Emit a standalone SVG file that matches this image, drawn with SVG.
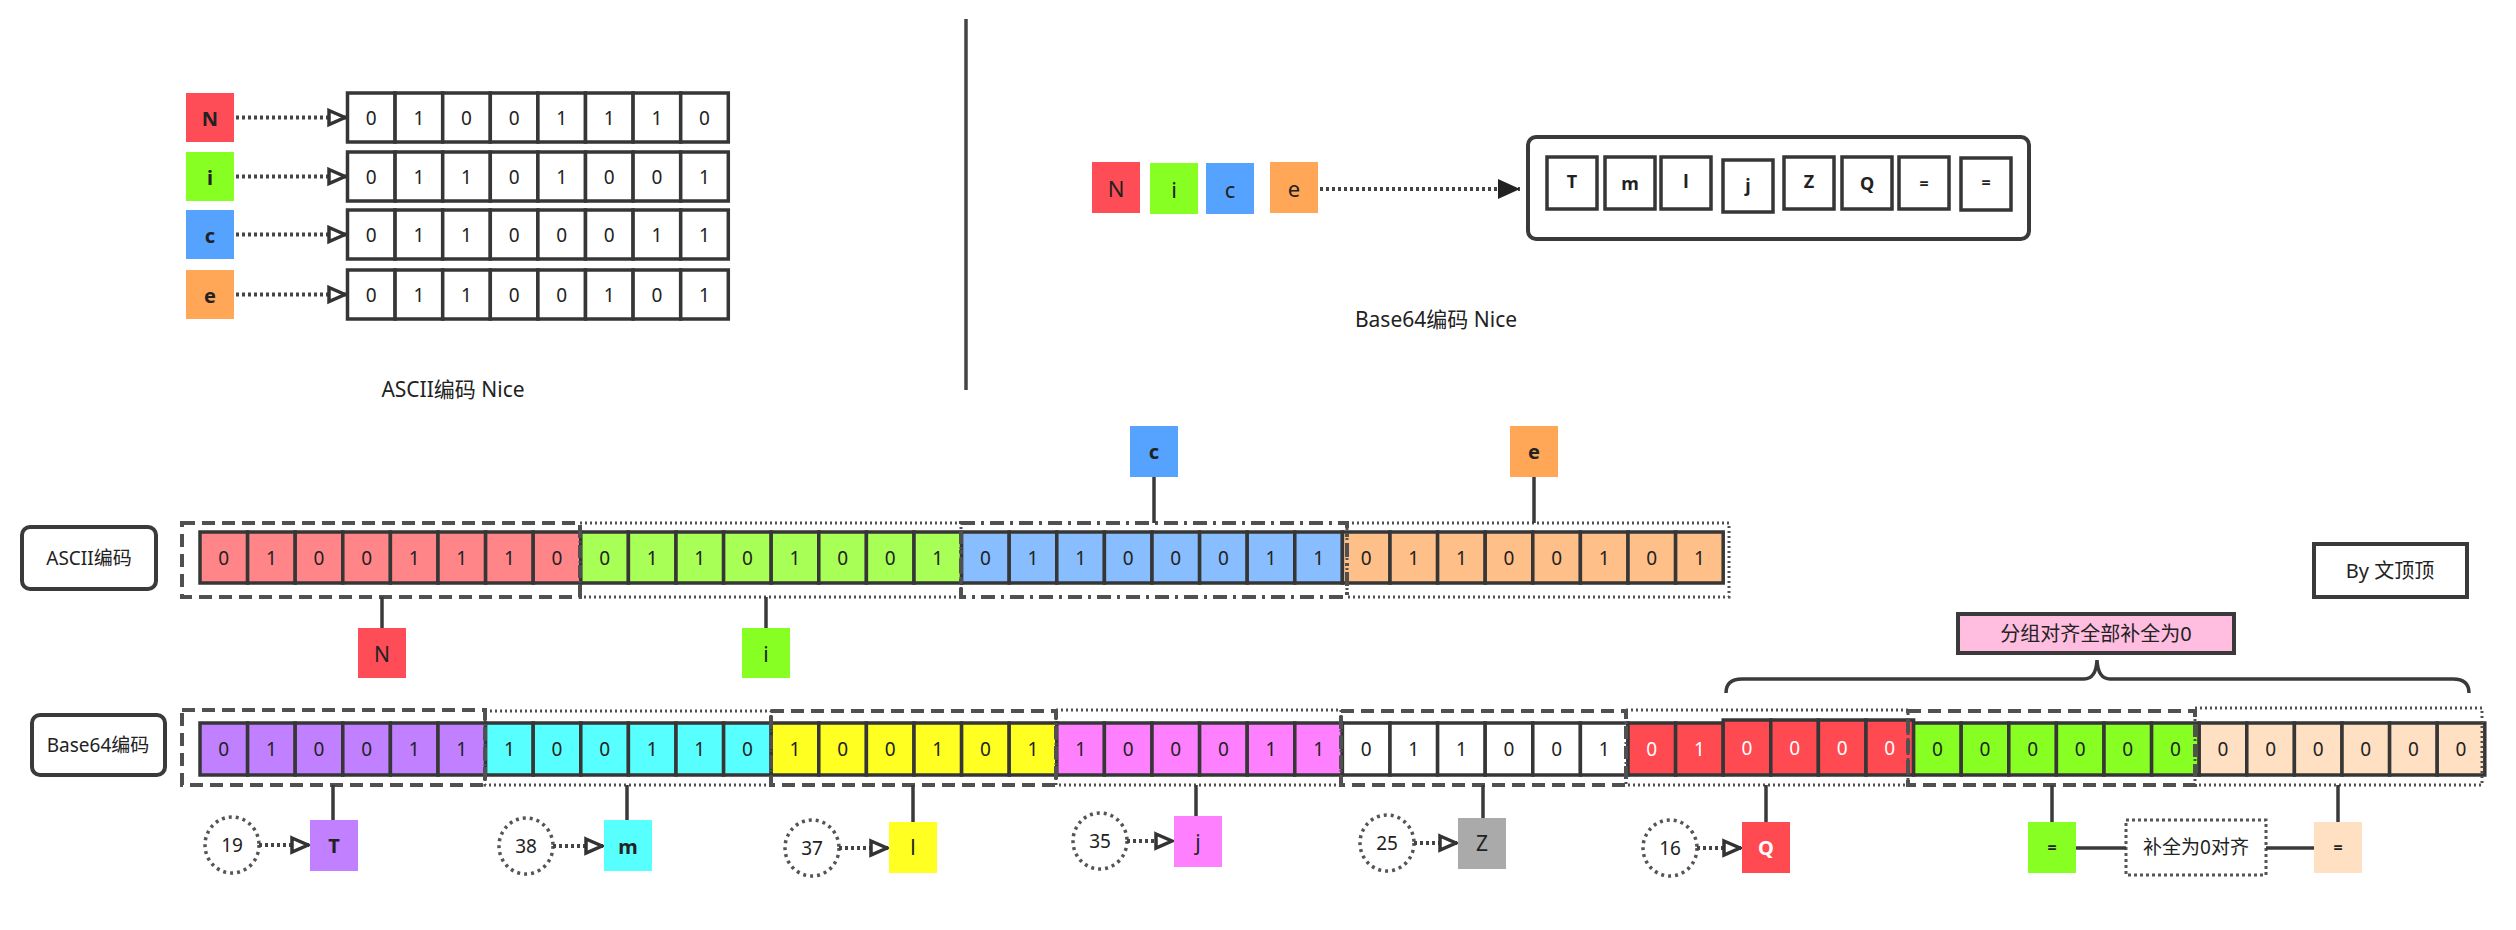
<svg xmlns="http://www.w3.org/2000/svg" width="2516" height="930" viewBox="0 0 2516 930">
<defs>
<style>
text{font-family:"Noto Sans","Noto Sans CJK SC",sans-serif;fill:#222;text-anchor:middle;dominant-baseline:central}
.cell{stroke:#363636;stroke-width:3.5}
.w{fill:#fff}
.b{font-size:19px}
.lt{font-size:20px;font-weight:bold}
.lbl{fill:#fff;stroke:#3a3a3a;stroke-width:4}
.dash{fill:none;stroke:#505050;stroke-width:4;stroke-dasharray:13 7}
.dot{fill:none;stroke:#505050;stroke-width:3;stroke-dasharray:2 3}
.dd{fill:none;stroke:#505050;stroke-width:4;stroke-dasharray:14 6 3 6}
.ln{stroke:#3a3a3a;stroke-width:3.5;fill:none}
.dl{stroke:#444;stroke-width:4;stroke-dasharray:3 3;fill:none}
.circ{fill:#fff;stroke:#555;stroke-width:3.5;stroke-dasharray:3 4}
.red{fill:#ff4d57}.grn{fill:#88ff22}.blu{fill:#55a2ff}.org{fill:#ffa657}
.pr{fill:#ff8589}.pg{fill:#a8ff55}.pb{fill:#88bdff}.po{fill:#ffbf88}
.pu{fill:#c080ff}.cy{fill:#58ffff}.ye{fill:#ffff22}.mg{fill:#ff80ff}.rd{fill:#ff4a52}.gr{fill:#88ff22}.pe{fill:#ffe0c2}
.wt{fill:#fff}
</style>
<marker id="ot" viewBox="0 0 20 20" refX="19" refY="10" markerWidth="20" markerHeight="20" markerUnits="userSpaceOnUse" orient="auto">
<path d="M2,3 L18,10 L2,17 Z" fill="#fff" stroke="#333" stroke-width="3.5"/>
</marker>
<marker id="solid" viewBox="0 0 24 24" refX="23" refY="12" markerWidth="24" markerHeight="24" markerUnits="userSpaceOnUse" orient="auto">
<path d="M1,2 L23,12 L1,22 Z" fill="#222"/>
</marker>
</defs>
<rect width="2516" height="930" fill="#fff"/>

<!-- top-left ASCII -->
<g id="tl-N"><rect x="186" y="93" width="48" height="49" class="red"/><text x="210" y="118" class="lt">N</text></g>
<g id="tl-i"><rect x="186" y="152" width="48" height="49" class="grn"/><text x="210" y="177" class="lt">i</text></g>
<g id="tl-c"><rect x="186" y="210" width="48" height="49" class="blu"/><text x="210" y="235" class="lt">c</text></g>
<g id="tl-e"><rect x="186" y="270" width="48" height="49" class="org"/><text x="210" y="295" class="lt">e</text></g>

<g id="tl-row-N" class="b">
<rect class="cell w" x="347.5" y="93" width="47.6" height="49"/><text x="371.3" y="118">0</text>
<rect class="cell w" x="395.1" y="93" width="47.6" height="49"/><text x="418.9" y="118">1</text>
<rect class="cell w" x="442.7" y="93" width="47.6" height="49"/><text x="466.5" y="118">0</text>
<rect class="cell w" x="490.3" y="93" width="47.6" height="49"/><text x="514.1" y="118">0</text>
<rect class="cell w" x="537.9" y="93" width="47.6" height="49"/><text x="561.7" y="118">1</text>
<rect class="cell w" x="585.5" y="93" width="47.6" height="49"/><text x="609.3" y="118">1</text>
<rect class="cell w" x="633.1" y="93" width="47.6" height="49"/><text x="656.9" y="118">1</text>
<rect class="cell w" x="680.7" y="93" width="47.6" height="49"/><text x="704.5" y="118">0</text>
</g>
<g id="tl-row-i" class="b">
<rect class="cell w" x="347.5" y="152" width="47.6" height="49"/><text x="371.3" y="177">0</text>
<rect class="cell w" x="395.1" y="152" width="47.6" height="49"/><text x="418.9" y="177">1</text>
<rect class="cell w" x="442.7" y="152" width="47.6" height="49"/><text x="466.5" y="177">1</text>
<rect class="cell w" x="490.3" y="152" width="47.6" height="49"/><text x="514.1" y="177">0</text>
<rect class="cell w" x="537.9" y="152" width="47.6" height="49"/><text x="561.7" y="177">1</text>
<rect class="cell w" x="585.5" y="152" width="47.6" height="49"/><text x="609.3" y="177">0</text>
<rect class="cell w" x="633.1" y="152" width="47.6" height="49"/><text x="656.9" y="177">0</text>
<rect class="cell w" x="680.7" y="152" width="47.6" height="49"/><text x="704.5" y="177">1</text>
</g>
<g id="tl-row-c" class="b">
<rect class="cell w" x="347.5" y="210" width="47.6" height="49"/><text x="371.3" y="235">0</text>
<rect class="cell w" x="395.1" y="210" width="47.6" height="49"/><text x="418.9" y="235">1</text>
<rect class="cell w" x="442.7" y="210" width="47.6" height="49"/><text x="466.5" y="235">1</text>
<rect class="cell w" x="490.3" y="210" width="47.6" height="49"/><text x="514.1" y="235">0</text>
<rect class="cell w" x="537.9" y="210" width="47.6" height="49"/><text x="561.7" y="235">0</text>
<rect class="cell w" x="585.5" y="210" width="47.6" height="49"/><text x="609.3" y="235">0</text>
<rect class="cell w" x="633.1" y="210" width="47.6" height="49"/><text x="656.9" y="235">1</text>
<rect class="cell w" x="680.7" y="210" width="47.6" height="49"/><text x="704.5" y="235">1</text>
</g>
<g id="tl-row-e" class="b">
<rect class="cell w" x="347.5" y="270" width="47.6" height="49"/><text x="371.3" y="295">0</text>
<rect class="cell w" x="395.1" y="270" width="47.6" height="49"/><text x="418.9" y="295">1</text>
<rect class="cell w" x="442.7" y="270" width="47.6" height="49"/><text x="466.5" y="295">1</text>
<rect class="cell w" x="490.3" y="270" width="47.6" height="49"/><text x="514.1" y="295">0</text>
<rect class="cell w" x="537.9" y="270" width="47.6" height="49"/><text x="561.7" y="295">0</text>
<rect class="cell w" x="585.5" y="270" width="47.6" height="49"/><text x="609.3" y="295">1</text>
<rect class="cell w" x="633.1" y="270" width="47.6" height="49"/><text x="656.9" y="295">0</text>
<rect class="cell w" x="680.7" y="270" width="47.6" height="49"/><text x="704.5" y="295">1</text>
</g>
<text id="tl-caption" x="453" y="389" style="font-size:21px">ASCII编码 Nice</text>

<g id="divider"><line x1="966" y1="19" x2="966" y2="390" stroke="#444" stroke-width="3.5"/></g>

<!-- top-right Base64 -->
<g id="tr-N"><rect x="1092" y="162" width="48" height="51" class="red"/><text x="1116" y="188" style="font-size:22px">N</text></g>
<g id="tr-i"><rect x="1150" y="163" width="48" height="51" class="grn"/><text x="1174" y="189" style="font-size:22px">i</text></g>
<g id="tr-c"><rect x="1206" y="163" width="48" height="51" class="blu"/><text x="1230" y="189" style="font-size:22px">c</text></g>
<g id="tr-e"><rect x="1270" y="162" width="48" height="51" class="org"/><text x="1294" y="188" style="font-size:22px">e</text></g>
<g id="tr-result">
<rect x="1528" y="137" width="501" height="102" rx="8" fill="#fff" stroke="#3a3a3a" stroke-width="4"/>
<rect class="cell w" x="1547" y="157" width="50" height="52"/><text x="1572" y="181" class="lt" style="font-size:18px">T</text>
<rect class="cell w" x="1605" y="157" width="50" height="52"/><text x="1630" y="183" class="lt" style="font-size:18px">m</text>
<rect class="cell w" x="1661" y="157" width="50" height="52"/><text x="1686" y="181" class="lt" style="font-size:18px">l</text>
<rect class="cell w" x="1723" y="160" width="50" height="52"/><text x="1748" y="185" class="lt" style="font-size:18px">j</text>
<rect class="cell w" x="1784" y="157" width="50" height="52"/><text x="1809" y="181" class="lt" style="font-size:18px">Z</text>
<rect class="cell w" x="1842" y="157" width="50" height="52"/><text x="1867" y="183" class="lt" style="font-size:18px">Q</text>
<rect class="cell w" x="1899" y="157" width="50" height="52"/><text x="1924" y="183" class="lt" style="font-size:16px">=</text>
<rect class="cell w" x="1961" y="158" width="50" height="52"/><text x="1986" y="182" class="lt" style="font-size:16px">=</text>
</g>
<text id="tr-caption" x="1436" y="319" style="font-size:21px">Base64编码 Nice</text>

<!-- labels -->
<g id="lbl-ascii"><rect class="lbl" x="22" y="527" width="134" height="62" rx="8"/><text x="89" y="558" style="font-size:19px">ASCII编码</text></g>
<g id="lbl-b64"><rect class="lbl" x="32" y="715" width="133" height="60" rx="8"/><text x="98" y="745" style="font-size:19px">Base64编码</text></g>
<g id="author"><rect class="lbl" x="2314" y="544" width="153" height="53"/><text x="2390" y="570" style="font-size:20px">By 文顶顶</text></g>
<g id="note-pad"><rect x="1958" y="614" width="276" height="39" fill="#ffbde0" stroke="#3a3a3a" stroke-width="4"/><text x="2096" y="633" style="font-size:20px">分组对齐全部补全为0</text></g>

<!-- ASCII row -->
<g id="ascii-row" class="b">
<rect class="cell pr" x="200" y="532" width="47.6" height="51"/><text x="223.8" y="557.5">0</text>
<rect class="cell pr" x="247.6" y="532" width="47.6" height="51"/><text x="271.4" y="557.5">1</text>
<rect class="cell pr" x="295.2" y="532" width="47.6" height="51"/><text x="319" y="557.5">0</text>
<rect class="cell pr" x="342.8" y="532" width="47.6" height="51"/><text x="366.6" y="557.5">0</text>
<rect class="cell pr" x="390.4" y="532" width="47.6" height="51"/><text x="414.2" y="557.5">1</text>
<rect class="cell pr" x="438" y="532" width="47.6" height="51"/><text x="461.8" y="557.5">1</text>
<rect class="cell pr" x="485.6" y="532" width="47.6" height="51"/><text x="509.4" y="557.5">1</text>
<rect class="cell pr" x="533.2" y="532" width="47.6" height="51"/><text x="557" y="557.5">0</text>
<rect class="cell pg" x="580.8" y="532" width="47.6" height="51"/><text x="604.6" y="557.5">0</text>
<rect class="cell pg" x="628.4" y="532" width="47.6" height="51"/><text x="652.2" y="557.5">1</text>
<rect class="cell pg" x="676" y="532" width="47.6" height="51"/><text x="699.8" y="557.5">1</text>
<rect class="cell pg" x="723.6" y="532" width="47.6" height="51"/><text x="747.4" y="557.5">0</text>
<rect class="cell pg" x="771.2" y="532" width="47.6" height="51"/><text x="795" y="557.5">1</text>
<rect class="cell pg" x="818.8" y="532" width="47.6" height="51"/><text x="842.6" y="557.5">0</text>
<rect class="cell pg" x="866.4" y="532" width="47.6" height="51"/><text x="890.2" y="557.5">0</text>
<rect class="cell pg" x="914" y="532" width="47.6" height="51"/><text x="937.8" y="557.5">1</text>
<rect class="cell pb" x="961.6" y="532" width="47.6" height="51"/><text x="985.4" y="557.5">0</text>
<rect class="cell pb" x="1009.2" y="532" width="47.6" height="51"/><text x="1033" y="557.5">1</text>
<rect class="cell pb" x="1056.8" y="532" width="47.6" height="51"/><text x="1080.6" y="557.5">1</text>
<rect class="cell pb" x="1104.4" y="532" width="47.6" height="51"/><text x="1128.2" y="557.5">0</text>
<rect class="cell pb" x="1152" y="532" width="47.6" height="51"/><text x="1175.8" y="557.5">0</text>
<rect class="cell pb" x="1199.6" y="532" width="47.6" height="51"/><text x="1223.4" y="557.5">0</text>
<rect class="cell pb" x="1247.2" y="532" width="47.6" height="51"/><text x="1271" y="557.5">1</text>
<rect class="cell pb" x="1294.8" y="532" width="47.6" height="51"/><text x="1318.6" y="557.5">1</text>
<rect class="cell po" x="1342.4" y="532" width="47.6" height="51"/><text x="1366.2" y="557.5">0</text>
<rect class="cell po" x="1390" y="532" width="47.6" height="51"/><text x="1413.8" y="557.5">1</text>
<rect class="cell po" x="1437.6" y="532" width="47.6" height="51"/><text x="1461.4" y="557.5">1</text>
<rect class="cell po" x="1485.2" y="532" width="47.6" height="51"/><text x="1509" y="557.5">0</text>
<rect class="cell po" x="1532.8" y="532" width="47.6" height="51"/><text x="1556.6" y="557.5">0</text>
<rect class="cell po" x="1580.4" y="532" width="47.6" height="51"/><text x="1604.2" y="557.5">1</text>
<rect class="cell po" x="1628" y="532" width="47.6" height="51"/><text x="1651.8" y="557.5">0</text>
<rect class="cell po" x="1675.6" y="532" width="47.6" height="51"/><text x="1699.4" y="557.5">1</text>
</g>
<g id="ascii-groups">
<rect class="dash" x="182" y="523" width="398" height="74"/>
<rect class="dot" x="580" y="523" width="381" height="74"/>
<rect class="dd" x="961" y="523" width="386" height="74"/>
<rect class="dot" x="1347" y="523" width="382" height="74"/>
</g>

<!-- Base64 row -->
<g id="b64-row" class="b">
<rect class="cell pu" x="200" y="723" width="47.6" height="52"/><text x="223.8" y="749">0</text>
<rect class="cell pu" x="247.6" y="723" width="47.6" height="52"/><text x="271.4" y="749">1</text>
<rect class="cell pu" x="295.2" y="723" width="47.6" height="52"/><text x="319" y="749">0</text>
<rect class="cell pu" x="342.8" y="723" width="47.6" height="52"/><text x="366.6" y="749">0</text>
<rect class="cell pu" x="390.4" y="723" width="47.6" height="52"/><text x="414.2" y="749">1</text>
<rect class="cell pu" x="438" y="723" width="47.6" height="52"/><text x="461.8" y="749">1</text>
<rect class="cell cy" x="485.6" y="723" width="47.6" height="52"/><text x="509.4" y="749">1</text>
<rect class="cell cy" x="533.2" y="723" width="47.6" height="52"/><text x="557" y="749">0</text>
<rect class="cell cy" x="580.8" y="723" width="47.6" height="52"/><text x="604.6" y="749">0</text>
<rect class="cell cy" x="628.4" y="723" width="47.6" height="52"/><text x="652.2" y="749">1</text>
<rect class="cell cy" x="676" y="723" width="47.6" height="52"/><text x="699.8" y="749">1</text>
<rect class="cell cy" x="723.6" y="723" width="47.6" height="52"/><text x="747.4" y="749">0</text>
<rect class="cell ye" x="771.2" y="723" width="47.6" height="52"/><text x="795" y="749">1</text>
<rect class="cell ye" x="818.8" y="723" width="47.6" height="52"/><text x="842.6" y="749">0</text>
<rect class="cell ye" x="866.4" y="723" width="47.6" height="52"/><text x="890.2" y="749">0</text>
<rect class="cell ye" x="914" y="723" width="47.6" height="52"/><text x="937.8" y="749">1</text>
<rect class="cell ye" x="961.6" y="723" width="47.6" height="52"/><text x="985.4" y="749">0</text>
<rect class="cell ye" x="1009.2" y="723" width="47.6" height="52"/><text x="1033" y="749">1</text>
<rect class="cell mg" x="1056.8" y="723" width="47.6" height="52"/><text x="1080.6" y="749">1</text>
<rect class="cell mg" x="1104.4" y="723" width="47.6" height="52"/><text x="1128.2" y="749">0</text>
<rect class="cell mg" x="1152" y="723" width="47.6" height="52"/><text x="1175.8" y="749">0</text>
<rect class="cell mg" x="1199.6" y="723" width="47.6" height="52"/><text x="1223.4" y="749">0</text>
<rect class="cell mg" x="1247.2" y="723" width="47.6" height="52"/><text x="1271" y="749">1</text>
<rect class="cell mg" x="1294.8" y="723" width="47.6" height="52"/><text x="1318.6" y="749">1</text>
<rect class="cell wt" x="1342.4" y="723" width="47.6" height="52"/><text x="1366.2" y="749">0</text>
<rect class="cell wt" x="1390" y="723" width="47.6" height="52"/><text x="1413.8" y="749">1</text>
<rect class="cell wt" x="1437.6" y="723" width="47.6" height="52"/><text x="1461.4" y="749">1</text>
<rect class="cell wt" x="1485.2" y="723" width="47.6" height="52"/><text x="1509" y="749">0</text>
<rect class="cell wt" x="1532.8" y="723" width="47.6" height="52"/><text x="1556.6" y="749">0</text>
<rect class="cell wt" x="1580.4" y="723" width="47.6" height="52"/><text x="1604.2" y="749">1</text>
<rect class="cell rd" x="1628" y="723" width="47.6" height="52"/><text x="1651.8" y="749" style="fill:#fff">0</text>
<rect class="cell rd" x="1675.6" y="723" width="47.6" height="52"/><text x="1699.4" y="749" style="fill:#fff">1</text>
<rect class="cell rd" x="1723.2" y="720" width="47.6" height="55"/><text x="1747" y="748" style="fill:#fff">0</text>
<rect class="cell rd" x="1770.8" y="720" width="47.6" height="55"/><text x="1794.6" y="748" style="fill:#fff">0</text>
<rect class="cell rd" x="1818.4" y="720" width="47.6" height="55"/><text x="1842.2" y="748" style="fill:#fff">0</text>
<rect class="cell rd" x="1866" y="720" width="47.6" height="55"/><text x="1889.8" y="748" style="fill:#fff">0</text>
<rect class="cell gr" x="1913.6" y="723" width="47.6" height="52"/><text x="1937.4" y="749">0</text>
<rect class="cell gr" x="1961.2" y="723" width="47.6" height="52"/><text x="1985" y="749">0</text>
<rect class="cell gr" x="2008.8" y="723" width="47.6" height="52"/><text x="2032.6" y="749">0</text>
<rect class="cell gr" x="2056.4" y="723" width="47.6" height="52"/><text x="2080.2" y="749">0</text>
<rect class="cell gr" x="2104" y="723" width="47.6" height="52"/><text x="2127.8" y="749">0</text>
<rect class="cell gr" x="2151.6" y="723" width="47.6" height="52"/><text x="2175.4" y="749">0</text>
<rect class="cell pe" x="2199.2" y="723" width="47.6" height="52"/><text x="2223" y="749">0</text>
<rect class="cell pe" x="2246.8" y="723" width="47.6" height="52"/><text x="2270.6" y="749">0</text>
<rect class="cell pe" x="2294.4" y="723" width="47.6" height="52"/><text x="2318.2" y="749">0</text>
<rect class="cell pe" x="2342" y="723" width="47.6" height="52"/><text x="2365.8" y="749">0</text>
<rect class="cell pe" x="2389.6" y="723" width="47.6" height="52"/><text x="2413.4" y="749">0</text>
<rect class="cell pe" x="2437.2" y="723" width="47.6" height="52"/><text x="2461" y="749">0</text>
</g>
<g id="b64-groups">
<rect class="dash" x="182" y="710" width="303" height="75"/>
<rect class="dot" x="485" y="711" width="286" height="74"/>
<rect class="dash" x="771" y="711" width="285" height="74"/>
<rect class="dot" x="1056" y="710" width="285" height="75"/>
<rect class="dash" x="1341" y="711" width="285" height="74"/>
<rect class="dot" x="1626" y="710" width="282" height="75"/>
<rect class="dash" x="1908" y="711" width="287" height="74"/>
<rect class="dot" x="2195" y="708" width="287" height="77"/>
</g>

<!-- character nodes bottom -->
<g id="a-N"><rect x="358" y="628" width="48" height="50" class="red"/><text x="382" y="654" style="font-size:21px">N</text></g>
<g id="a-i"><rect x="742" y="628" width="48" height="50" class="grn"/><text x="766" y="654" style="font-size:21px">i</text></g>
<g id="a-c"><rect x="1130" y="426" width="48" height="51" class="blu"/><text x="1154" y="451" class="lt">c</text></g>
<g id="a-e"><rect x="1510" y="426" width="48" height="51" class="org"/><text x="1534" y="451" class="lt">e</text></g>

<g id="b-T"><rect x="310" y="820" width="48" height="51" class="pu"/><text x="334" y="845" class="lt">T</text></g>
<g id="b-m"><rect x="604" y="820" width="48" height="51" class="cy"/><text x="628" y="846" class="lt">m</text></g>
<g id="b-l"><rect x="889" y="822" width="48" height="51" class="ye"/><text x="913" y="847" style="font-size:21px">l</text></g>
<g id="b-j"><rect x="1174" y="816" width="48" height="51" class="mg"/><text x="1198" y="842" style="font-size:21px">j</text></g>
<g id="b-Z"><rect x="1458" y="818" width="48" height="51" fill="#aaa"/><text x="1482" y="843" style="font-size:21px">Z</text></g>
<g id="b-Q"><rect x="1742" y="822" width="48" height="51" class="rd"/><text x="1766" y="847" class="lt" style="fill:#fff">Q</text></g>
<g id="b-eq1"><rect x="2028" y="822" width="48" height="51" class="gr"/><text x="2052" y="847" class="lt" style="font-size:16px">=</text></g>
<g id="b-eq2"><rect x="2314" y="822" width="48" height="51" class="pe"/><text x="2338" y="847" class="lt" style="font-size:16px">=</text></g>
<g id="b-padnote"><rect x="2126" y="820" width="140" height="55" fill="#fff" stroke="#555" stroke-width="3" stroke-dasharray="3 3"/><text x="2196" y="847" style="font-size:19px">补全为0对齐</text></g>

<g id="n19"><ellipse class="circ" cx="232" cy="845" rx="27" ry="28"/><text x="232" y="845" style="font-size:19px">19</text></g>
<g id="n38"><ellipse class="circ" cx="526" cy="846" rx="27" ry="28"/><text x="526" y="846" style="font-size:19px">38</text></g>
<g id="n37"><ellipse class="circ" cx="812" cy="848" rx="27" ry="28"/><text x="812" y="848" style="font-size:19px">37</text></g>
<g id="n35"><ellipse class="circ" cx="1100" cy="841" rx="27" ry="28"/><text x="1100" y="841" style="font-size:19px">35</text></g>
<g id="n25"><ellipse class="circ" cx="1387" cy="843" rx="27" ry="28"/><text x="1387" y="843" style="font-size:19px">25</text></g>
<g id="n16"><ellipse class="circ" cx="1670" cy="848" rx="27" ry="28"/><text x="1670" y="848" style="font-size:19px">16</text></g>

<!-- connectors -->
<g id="connectors">
<line class="dl" x1="236" y1="117.5" x2="346" y2="117.5" marker-end="url(#ot)"/>
<line class="dl" x1="236" y1="176.5" x2="346" y2="176.5" marker-end="url(#ot)"/>
<line class="dl" x1="236" y1="234.5" x2="346" y2="234.5" marker-end="url(#ot)"/>
<line class="dl" x1="236" y1="294.5" x2="346" y2="294.5" marker-end="url(#ot)"/>
<line class="dl" x1="1320" y1="189" x2="1520" y2="189" marker-end="url(#solid)"/>
<line class="ln" x1="382" y1="597" x2="382" y2="628"/>
<line class="ln" x1="766" y1="597" x2="766" y2="628"/>
<line class="ln" x1="1154" y1="477" x2="1154" y2="523"/>
<line class="ln" x1="1534" y1="477" x2="1534" y2="523"/>
<line class="ln" x1="333" y1="785" x2="333" y2="820"/>
<line class="ln" x1="627" y1="785" x2="627" y2="820"/>
<line class="ln" x1="913" y1="785" x2="913" y2="822"/>
<line class="ln" x1="1196" y1="785" x2="1196" y2="816"/>
<line class="ln" x1="1483" y1="785" x2="1483" y2="818"/>
<line class="ln" x1="1766" y1="785" x2="1766" y2="822"/>
<line class="ln" x1="2052" y1="785" x2="2052" y2="822"/>
<line class="ln" x1="2338" y1="785" x2="2338" y2="822"/>
<line class="dl" x1="259" y1="845" x2="309" y2="845" marker-end="url(#ot)"/>
<line class="dl" x1="553" y1="846" x2="603" y2="846" marker-end="url(#ot)"/>
<line class="dl" x1="839" y1="848" x2="888" y2="848" marker-end="url(#ot)"/>
<line class="dl" x1="1127" y1="841" x2="1173" y2="841" marker-end="url(#ot)"/>
<line class="dl" x1="1414" y1="843" x2="1457" y2="843" marker-end="url(#ot)"/>
<line class="dl" x1="1697" y1="848" x2="1741" y2="848" marker-end="url(#ot)"/>
<line class="ln" x1="2076" y1="848" x2="2126" y2="848" stroke-width="5"/>
<line class="ln" x1="2266" y1="848" x2="2314" y2="848" stroke-width="5"/>
<path class="ln" d="M1726,693 Q1726,679 1742,679 L2084,679 Q2096,679 2097,660 Q2098,679 2110,679 L2453,679 Q2469,679 2469,693"/>
</g>
</svg>
